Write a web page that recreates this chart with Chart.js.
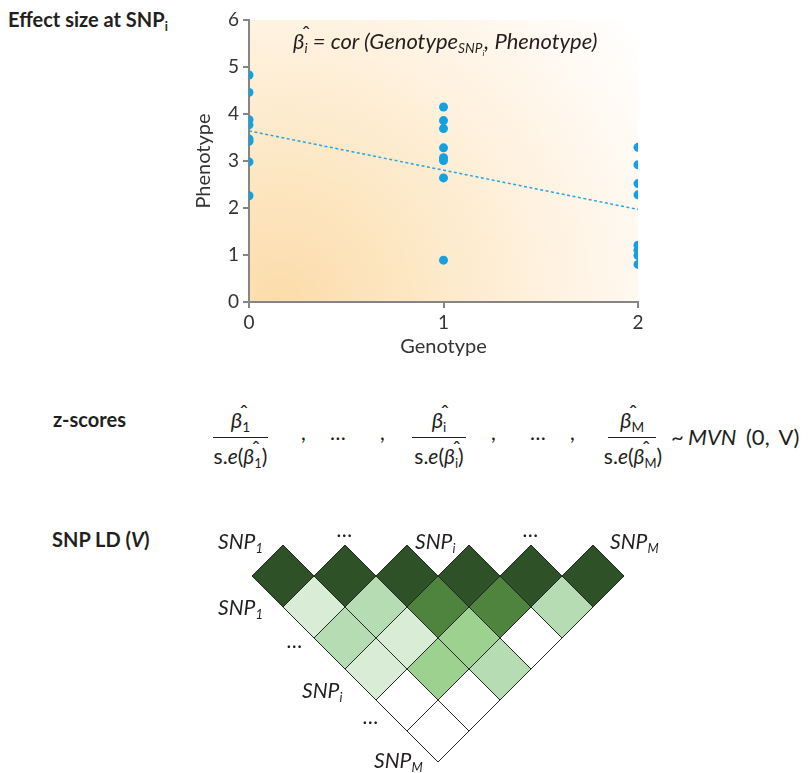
<!DOCTYPE html>
<html>
<head>
<meta charset="utf-8">
<script src="https://cdn.jsdelivr.net/npm/chart.js@4.4.0/dist/chart.umd.min.js"></script>
<style>
  body { margin: 0; background: #fff; }
  #page { position: relative; width: 810px; height: 773px; overflow: hidden;
          font-family: Lato, "Noto Sans", sans-serif; color: #231f20; }
  .abs { position: absolute; white-space: nowrap; line-height: 1; }
  .bold { font-weight: 700; font-size: 20px; }
  .math { font-size: 21px; }
  .it { font-style: italic; }
  .snp { font-size: 21px; font-style: italic; }
  sub { font-size: 0.62em; vertical-align: -0.3em; line-height: 0; }
  .hat { position: relative; display: inline-block; font-style: italic; }
  .hat::before { content: "\02C6"; position: absolute; left: 0.4em; top: -0.34em; font-style: normal; }
  .frac { text-align: center; }
  .bar { height: 1px; background: #231f20; }
</style>
</head>
<body>
<div id="page">
  <div class="abs bold" style="left:8px;top:9px">Effect size at SNP<sub>i</sub></div>

  <div class="abs" style="left:150px;top:0px"><canvas id="scatter" width="520" height="362"></canvas></div>
  <div class="abs math it" style="left:293px;top:30px;font-size:22px"><span class="hat">β</span><sub>i</sub> = cor (Genotype<sub>SNP<sub>i</sub></sub>, Phenotype)</div>

  <div class="abs bold" style="left:53px;top:409px">z-scores</div>

  <div class="abs math frac" style="left:213px;width:55px;top:409px;font-size:22px"><span class="hat">β</span><sub>1</sub></div>
  <div class="abs bar" style="left:213px;width:55px;top:437px"></div>
  <div class="abs math frac" style="left:206px;width:69px;top:445px">s.<i>e</i>(<span class="hat">β</span><sub>1</sub>)</div>
  <div class="abs math" style="left:301px;top:421px">,</div>
  <div class="abs math" style="left:330px;top:421px">…</div>
  <div class="abs math" style="left:380px;top:421px">,</div>

  <div class="abs math frac" style="left:412px;width:54px;top:409px;font-size:22px"><span class="hat">β</span><sub>i</sub></div>
  <div class="abs bar" style="left:412px;width:54px;top:437px"></div>
  <div class="abs math frac" style="left:404px;width:70px;top:445px">s.<i>e</i>(<span class="hat">β</span><sub>i</sub>)</div>
  <div class="abs math" style="left:491px;top:421px">,</div>
  <div class="abs math" style="left:530px;top:421px">…</div>
  <div class="abs math" style="left:570px;top:421px">,</div>

  <div class="abs math frac" style="left:608px;width:48px;top:409px;font-size:22px"><span class="hat">β</span><sub>M</sub></div>
  <div class="abs bar" style="left:608px;width:48px;top:437px"></div>
  <div class="abs math frac" style="left:597px;width:72px;top:445px">s.<i>e</i>(<span class="hat">β</span><sub>M</sub>)</div>
  <div class="abs math" style="left:671px;top:426px;font-size:22px">~</div>
  <div class="abs math it" style="left:688px;top:426px;font-size:22px">MVN</div>
  <div class="abs math" style="left:746px;top:426px;font-size:22px;word-spacing:4px">(0, V)</div>

  <div class="abs bold" style="left:52px;top:529px">SNP LD (<i>V</i>)</div>

  <div class="abs" style="left:252px;top:545px"><canvas id="ld" width="372" height="217"></canvas></div>

  <div class="abs snp" style="left:218px;top:530px">SNP<sub>1</sub></div>
  <div class="abs snp" style="left:337px;top:518px">…</div>
  <div class="abs snp" style="left:415px;top:530px">SNP<sub>i</sub></div>
  <div class="abs snp" style="left:523px;top:518px">…</div>
  <div class="abs snp" style="left:610px;top:530px">SNP<sub>M</sub></div>
  <div class="abs snp" style="left:218px;top:596px">SNP<sub>1</sub></div>
  <div class="abs snp" style="left:287px;top:629px">…</div>
  <div class="abs snp" style="left:302px;top:679px">SNP<sub>i</sub></div>
  <div class="abs snp" style="left:363px;top:705px">…</div>
  <div class="abs snp" style="left:374px;top:749px">SNP<sub>M</sub></div>
</div>

<script>
// scatter data: phenotype values for each genotype group
const genotypes = [0, 1, 2];
const phenoG0 = [4.83, 4.46, 3.88, 3.77, 3.47, 3.42, 2.98, 2.26];
const phenoG1 = [4.15, 3.86, 3.69, 3.28, 3.07, 3.01, 2.64, 0.89];
const phenoG2 = [3.29, 2.92, 2.52, 2.28, 1.21, 1.10, 0.99, 0.80];
const fitX = [0, 2];
const fitY = [3.64, 1.97];
const xTicks = [0, 1, 2];
const yTicks = [0, 1, 2, 3, 4, 5, 6];

// LD matrix, one array per distance from the diagonal
const ldLag0 = [1, 1, 1, 1, 1, 1];
const ldLag1 = [0.15, 0.3, 0.7, 0.7, 0.3];
const ldLag2 = [0.3, 0.15, 0.45, 0];
const ldLag3 = [0.15, 0.45, 0.3];
const ldLag4 = [0, 0];
const ldLag5 = [0];

const points = [];
[phenoG0, phenoG1, phenoG2].forEach((vals, g) => {
    vals.forEach(v => points.push({ x: genotypes[g], y: v }));
});

const bgPlugin = {
    id: 'plotBg',
    beforeDraw(chart) {
        const { ctx, chartArea: a } = chart;
        const g = ctx.createRadialGradient(a.left + 30, a.bottom, 0, a.left + 30, a.bottom, 450);
        g.addColorStop(0, '#fcdcaa');
        g.addColorStop(0.35, '#fde9c8');
        g.addColorStop(0.7, '#fff5e8');
        g.addColorStop(1, '#ffffff');
        ctx.save();
        ctx.fillStyle = g;
        ctx.fillRect(a.left, a.top, a.right - a.left, a.bottom - a.top);
        ctx.restore();
    }
};

const axisColor = '#858585';
const tickFont = { family: 'Lato, sans-serif', size: 19 };
const titleFont = { family: 'Lato, sans-serif', size: 20 };

new Chart(document.getElementById('scatter'), {
    type: 'scatter',
    data: {
        datasets: [{
            data: points,
            pointRadius: 4.5,
            pointBackgroundColor: '#14a1e2',
            pointBorderWidth: 0
        }, {
            type: 'line',
            data: fitX.map((x, i) => ({ x: x, y: fitY[i] })),
            borderColor: '#2aa5dd',
            borderWidth: 1.5,
            borderDash: [3, 2.5],
            pointRadius: 0
        }]
    },
    options: {
        responsive: false,
        devicePixelRatio: 1,
        animation: false,
        events: [],
        layout: { autoPadding: false, padding: { left: 38, top: 20, right: 32, bottom: 0 } },
        plugins: { legend: { display: false }, tooltip: { enabled: false } },
        scales: {
            x: {
                type: 'linear', min: xTicks[0], max: xTicks[xTicks.length - 1],
                afterBuildTicks: s => { s.ticks = xTicks.map(v => ({ value: v })); },
                afterFit: s => { s.height = 60; s.paddingLeft = 0; s.paddingRight = 0; },
                ticks: { font: tickFont, color: '#333', padding: 3 },
                grid: { drawOnChartArea: false, tickLength: 6, color: axisColor, lineWidth: 2 },
                border: { color: axisColor, width: 2 },
                title: { display: true, text: 'Genotype', font: titleFont, color: '#333', padding: { top: 4, bottom: 3 } }
            },
            y: {
                type: 'linear', min: yTicks[0], max: yTicks[yTicks.length - 1],
                afterBuildTicks: s => { s.ticks = yTicks.map(v => ({ value: v })); },
                afterFit: s => { s.width = 61; s.paddingTop = 0; s.paddingBottom = 0; },
                ticks: { font: tickFont, color: '#333', padding: 4 },
                grid: { drawOnChartArea: false, tickLength: 6, color: axisColor, lineWidth: 2 },
                border: { color: axisColor, width: 2 },
                title: { display: true, text: 'Phenotype', font: titleFont, color: '#333', padding: { top: 4, bottom: 4 } }
            }
        }
    },
    plugins: [bgPlugin]
});

// LD heatmap as rotated squares
function ldColor(v) {
    if (v >= 0.9) return '#2e5128';
    if (v >= 0.6) return '#4e843e';
    if (v >= 0.4) return '#9cd18f';
    if (v >= 0.25) return '#b6dcb4';
    if (v >= 0.1) return '#d9ecd6';
    return '#ffffff';
}

const cells = [];
[ldLag0, ldLag1, ldLag2, ldLag3, ldLag4, ldLag5].forEach((row, d) => {
    row.forEach((v, i) => cells.push({ x: 2 * i + d, y: d, v: v }));
});

new Chart(document.getElementById('ld'), {
    type: 'scatter',
    data: {
        datasets: [{
            data: cells,
            pointStyle: 'rectRot',
            pointRadius: 31,
            pointBackgroundColor: cells.map(c => ldColor(c.v)),
            pointBorderColor: '#262626',
            pointBorderWidth: 1,
            clip: false
        }]
    },
    options: {
        responsive: false,
        devicePixelRatio: 1,
        animation: false,
        events: [],
        layout: { autoPadding: false, padding: 0 },
        plugins: { legend: { display: false }, tooltip: { enabled: false } },
        scales: {
            x: { type: 'linear', min: -1, max: 11, display: false },
            y: { type: 'linear', min: -1, max: 6, reverse: true, display: false }
        }
    }
});
</script>
</body>
</html>
